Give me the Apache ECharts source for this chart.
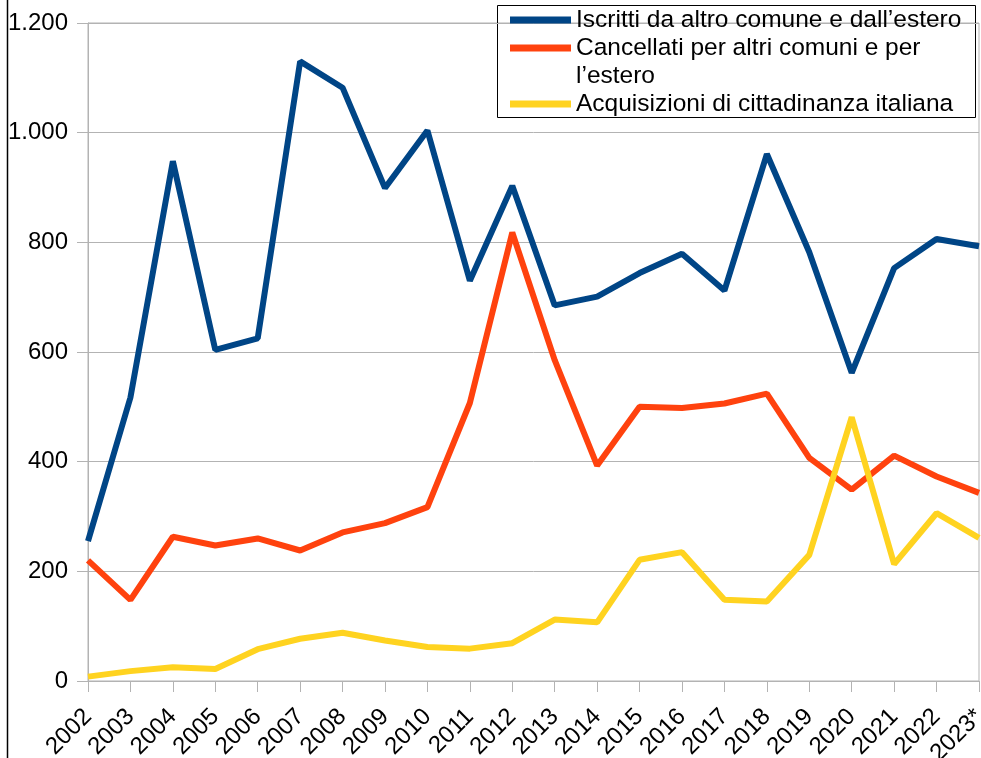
<!DOCTYPE html>
<html>
<head>
<meta charset="utf-8">
<script src="https://cdn.jsdelivr.net/npm/echarts@6/dist/echarts.min.js"></script>
<style>
    html, body { margin: 0; padding: 0; background: #fff; }
    #chart { width: 981px; height: 758px; }
</style>
</head>
<body>
<div id="chart"></div>
<script>
// anni
const years = ['2002', '2003', '2004', '2005', '2006', '2007', '2008', '2009', '2010', '2011', '2012',
    '2013', '2014', '2015', '2016', '2017', '2018', '2019', '2020', '2021', '2022', '2023*'];

const iscritti = [255, 517, 948, 604, 625, 1130, 1082, 899, 1004, 730, 903,
    685, 701, 744, 779, 712, 961, 782, 562, 753, 806, 793];
const cancellati = [220, 148, 263, 247, 260, 238, 271, 288, 317, 507, 818,
    585, 393, 500, 498, 506, 524, 407, 349, 411, 373, 343];
const acquisizioni = [8, 18, 25, 22, 58, 77, 88, 74, 62, 59, 69,
    112, 107, 221, 235, 148, 145, 230, 481, 213, 306, 261];

const seriesNames = [
    'Iscritti da altro comune e dall’estero',
    'Cancellati per altri comuni e per l’estero',
    'Acquisizioni di cittadinanza italiana',
];
const seriesColors = ['#004586', '#ff420e', '#ffd320'];

const FONT = "'Liberation Sans', Arial, sans-serif";
const GRID_COLOR = '#b3b3b3';

function fmtThousands(v) {
    return String(v).replace(/\B(?=(\d{3})+(?!\d))/g, '.');
}

function makeLegend(idx, top) {
    return {
        orient: 'vertical',
        left: 510,
        top: top,
        padding: 0,
        itemGap: 0,
        itemWidth: 61,
        itemHeight: 7,
        icon: 'rect',
        selectedMode: false,
        data: [seriesNames[idx]],
        formatter: function (name) {
            // riga vuota sopra: cosi' il simbolo resta sulla prima riga del testo
            return name === seriesNames[1] ? '\u00a0\nCancellati per altri comuni e per\nl’estero' : name;
        },
        textStyle: {
            fontFamily: FONT,
            fontSize: 24.5,
            lineHeight: 28,
            color: '#000',
        },
    };
}

let chart = echarts.init(document.getElementById('chart'));

let option = {
    animation: false,
    backgroundColor: '#fff',
    color: seriesColors,
    grid: {
        left: 88,
        right: 2,
        top: 23,
        bottom: 77,
        outerBoundsMode: 'none',
        containLabel: false,
        show: true,
        borderColor: GRID_COLOR,
        borderWidth: 1,
    },
    graphic: [
        {
            type: 'line',
            shape: { x1: 7.5, y1: 0, x2: 7.5, y2: 758 },
            style: { stroke: '#000', lineWidth: 1.5 },
            silent: true,
        },
        {
            type: 'rect',
            shape: { x: 497.5, y: 5.5, width: 478, height: 112 },
            style: { fill: 'transparent', stroke: '#000', lineWidth: 1 },
            silent: true,
        },
    ],
    legend: [
        makeLegend(0, 6),
        makeLegend(1, 6),
        makeLegend(2, 90),
    ],
    xAxis: {
        type: 'category',
        data: years,
        boundaryGap: false,
        axisLine: { lineStyle: { color: GRID_COLOR, width: 1 } },
        axisTick: { show: true, length: 11, lineStyle: { color: GRID_COLOR } },
        axisLabel: {
            interval: 0,
            rotate: 45,
            margin: 32,
            fontFamily: FONT,
            fontSize: 24,
            color: '#000',
        },
        splitLine: { show: false },
    },
    yAxis: {
        type: 'value',
        min: 0,
        max: 1200,
        interval: 200,
        axisLine: { show: true, lineStyle: { color: GRID_COLOR, width: 1 } },
        axisTick: { show: true, length: 11, lineStyle: { color: GRID_COLOR } },
        axisLabel: {
            margin: 20,
            fontFamily: FONT,
            fontSize: 24,
            color: '#000',
            formatter: fmtThousands,
        },
        splitLine: { show: true, lineStyle: { color: GRID_COLOR, width: 1 } },
    },
    series: [iscritti, cancellati, acquisizioni].map((d, i) => ({
        name: seriesNames[i],
        type: 'line',
        data: d,
        symbol: 'none',
        lineStyle: { width: 6, color: seriesColors[i] },
        emphasis: { disabled: true },
    })),
};

chart.setOption(option);
</script>
</body>
</html>
